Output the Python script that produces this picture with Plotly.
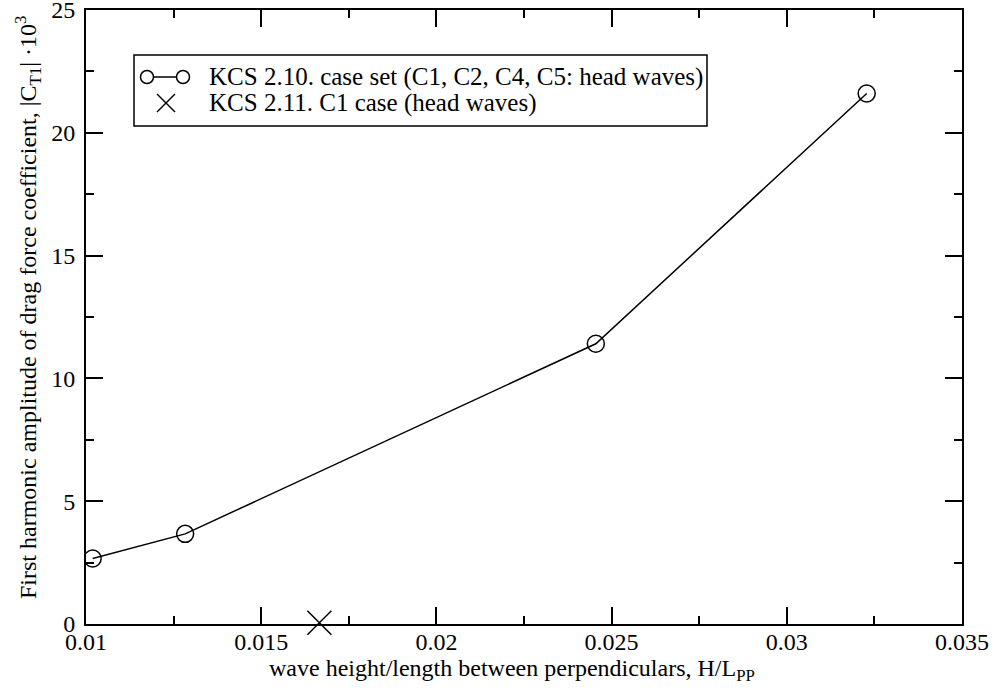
import plotly.graph_objects as go

# Data
h_over_lpp = [0.01019, 0.01283, 0.02455, 0.03228]
ct1_amp = [2.67, 3.67, 11.41, 21.6]
c1_x = [0.01666]
c1_y = [0.05]
series_names = ["KCS 2.10. case set (C1, C2, C4, C5: head waves)", "KCS 2.11. C1 case (head waves)"]
x_title = "wave height/length between perpendiculars, H/L<sub>PP</sub>"
y_title = "First harmonic amplitude of drag force coefficient, |C<sub>T1</sub>| ·10<sup>3</sup>"

FONT = "Liberation Serif, Times New Roman, serif"
W, H = 995, 691
ML, MR, MT, MB = 86, 33, 10, 67
PW, PH = W - ML - MR, H - MT - MB


def px(x):
    return (x - ML) / PW


def py(y):
    return (H - MB - y) / PH


fig = go.Figure()
fig.add_trace(go.Scatter(
    x=h_over_lpp, y=ct1_amp, mode="lines+markers", name=series_names[0],
    line=dict(color="black", width=1.5),
    marker=dict(symbol="circle-open", size=17, color="black", line=dict(width=1.5, color="black")),
))
fig.add_trace(go.Scatter(
    x=c1_x, y=c1_y, mode="markers", name=series_names[1],
    marker=dict(symbol="x-thin-open", size=24, color="black", line=dict(width=1.5, color="black")),
    cliponaxis=False,
))

axis_common = dict(
    showline=True, linecolor="black", linewidth=2, mirror="allticks",
    ticks="inside", ticklen=17, tickwidth=1.5, tickcolor="black",
    showgrid=False, zeroline=False, automargin=False, ticklabeloverflow="allow",
    tickfont=dict(family=FONT, size=24, color="black"),
)

# Legend (drawn manually to match the boxed legend of the reference)
shapes = [
    dict(type="rect", xref="paper", yref="paper", x0=px(134), x1=px(707), y0=py(126), y1=py(55),
         line=dict(color="black", width=1.5), fillcolor="white", layer="above"),
    dict(type="line", xref="paper", yref="paper", x0=px(153.5), x1=px(176.5), y0=py(77), y1=py(77),
         line=dict(color="black", width=1.5), layer="above"),
]
for cx in (147, 183):
    shapes.append(dict(type="circle", xref="paper", yref="paper", xsizemode="pixel", ysizemode="pixel",
                       xanchor=px(cx), yanchor=py(77), x0=-6.5, x1=6.5, y0=-6.5, y1=6.5,
                       line=dict(color="black", width=1.5), layer="above"))
for sgn in (1, -1):
    shapes.append(dict(type="line", xref="paper", yref="paper", xsizemode="pixel", ysizemode="pixel",
                       xanchor=px(166), yanchor=py(103), x0=-9, x1=9, y0=-9 * sgn, y1=9 * sgn,
                       line=dict(color="black", width=1.5), layer="above"))

annotations = [
    dict(text=series_names[0], xref="paper", yref="paper", x=px(207), y=py(77),
         xanchor="left", yanchor="middle", showarrow=False, font=dict(family=FONT, size=25)),
    dict(text=series_names[1], xref="paper", yref="paper", x=px(207), y=py(103),
         xanchor="left", yanchor="middle", showarrow=False, font=dict(family=FONT, size=25)),
    dict(text=x_title, xref="paper", yref="paper", x=px(512), y=py(670),
         xanchor="center", yanchor="middle", showarrow=False, font=dict(family=FONT, size=24)),
    dict(text=y_title, xref="paper", yref="paper", x=px(28), y=py(308), textangle=-90,
         xanchor="center", yanchor="middle", showarrow=False, font=dict(family=FONT, size=24)),
]

fig.update_layout(
    width=W, height=H,
    margin=dict(l=ML, r=MR, t=MT, b=MB),
    paper_bgcolor="white", plot_bgcolor="white",
    font=dict(family=FONT, size=24, color="black"),
    showlegend=False,
    shapes=shapes,
    annotations=annotations,
    xaxis=dict(
        range=[0.01, 0.035], dtick=0.005, tick0=0.01, ticklabelstandoff=-5,
        minor=dict(ticks="inside", ticklen=8, tickwidth=1.5, tickcolor="black", dtick=0.0025),
        **axis_common,
    ),
    yaxis=dict(
        range=[0, 25], dtick=5, ticklabelstandoff=4,
        minor=dict(ticks="inside", ticklen=8, tickwidth=1.5, tickcolor="black", dtick=2.5),
        **axis_common,
    ),
)

fig.write_html("out.html", config={"displayModeBar": False},
               post_script="document.body.style.margin='0';")
